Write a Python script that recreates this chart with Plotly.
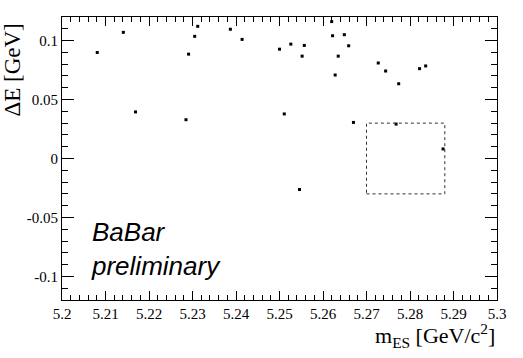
import plotly.graph_objects as go

# candidate events (m_ES, Delta E)
m_es = [5.2081, 5.2141, 5.2169, 5.2285, 5.2291, 5.2305, 5.2312, 5.2387, 5.2414,
        5.2500, 5.2511, 5.2526, 5.2557, 5.2552, 5.2546, 5.2620, 5.2622, 5.2649,
        5.2659, 5.2635, 5.2628, 5.2670, 5.2727, 5.2744, 5.2774, 5.2822, 5.2836,
        5.2768, 5.2876]
delta_e = [0.0899, 0.1070, 0.0395, 0.0329, 0.0885, 0.1036, 0.1121, 0.1096, 0.1010,
           0.0927, 0.0378, 0.0970, 0.0959, 0.0868, -0.0263, 0.1161, 0.1041, 0.1050,
           0.0956, 0.0868, 0.0708, 0.0306, 0.0810, 0.0742, 0.0634, 0.0762, 0.0785,
           0.0292, 0.0081]

# signal box
box_x = [5.27, 5.288]
box_y = [-0.03, 0.03]

x_ticks = [5.2, 5.21, 5.22, 5.23, 5.24, 5.25, 5.26, 5.27, 5.28, 5.29, 5.3]
y_ticks = [-0.1, -0.05, 0, 0.05, 0.1]

serif = 'Liberation Serif, Times New Roman, serif'
sans = 'Liberation Sans, Arial, sans-serif'

fig = go.Figure()

fig.add_trace(go.Scatter(
    x=m_es, y=delta_e, mode='markers',
    marker=dict(symbol='square', size=3, color='black'),
    showlegend=False
))

fig.add_shape(type='rect', x0=box_x[0], x1=box_x[1], y0=box_y[0], y1=box_y[1],
              line=dict(color='#333333', width=1, dash='dot'))

# BaBar label, one block with tight line spacing
fig.add_annotation(
    x=0.062, y=0.18, xref='paper', yref='paper', xanchor='left', yanchor='middle',
    text='<i>BaBar</i><br><i>preliminary</i>', showarrow=False, align='left',
    font=dict(family=sans, size=26, color='black')
)

fig.add_annotation(
    x=1.0, y=-0.062, xref='paper', yref='paper', xanchor='right', yanchor='top',
    text='m<sub>ES</sub> [GeV/c<sup>2</sup>]', showarrow=False,
    font=dict(family=serif, size=22, color='black')
)

fig.add_annotation(
    x=-0.113, y=0.985, xref='paper', yref='paper', xanchor='center', yanchor='top',
    text='ΔE [GeV]', showarrow=False, textangle=-90,
    font=dict(family=serif, size=23, color='black')
)

fig.update_layout(
    width=523, height=358,
    margin=dict(l=62, r=26, t=17, b=58),
    plot_bgcolor='white', paper_bgcolor='white',
    font=dict(family=serif, size=15, color='black'),
    xaxis=dict(
        range=[5.2, 5.3], tickvals=x_ticks, ticktext=[f'{v:g}' for v in x_ticks],
        tickfont=dict(family=serif, size=15),
        showgrid=False, zeroline=False, showline=True, linecolor='black', linewidth=1,
        mirror='ticks', ticks='inside', ticklen=9, tickcolor='black',
        minor=dict(ticks='inside', ticklen=5, dtick=0.002, tick0=5.2, tickcolor='black', showgrid=False)
    ),
    yaxis=dict(
        range=[-0.12, 0.12], tickvals=y_ticks, ticktext=[f'{v:g}' for v in y_ticks],
        tickfont=dict(family=serif, size=15),
        showgrid=False, zeroline=False, showline=True, linecolor='black', linewidth=1,
        mirror='ticks', ticks='inside', ticklen=12, tickcolor='black',
        minor=dict(ticks='inside', ticklen=6, dtick=0.01, tick0=0, tickcolor='black', showgrid=False)
    )
)

fig.write_html('out.html', config={'displayModeBar': False},
               post_script="document.body.style.margin='0';")
